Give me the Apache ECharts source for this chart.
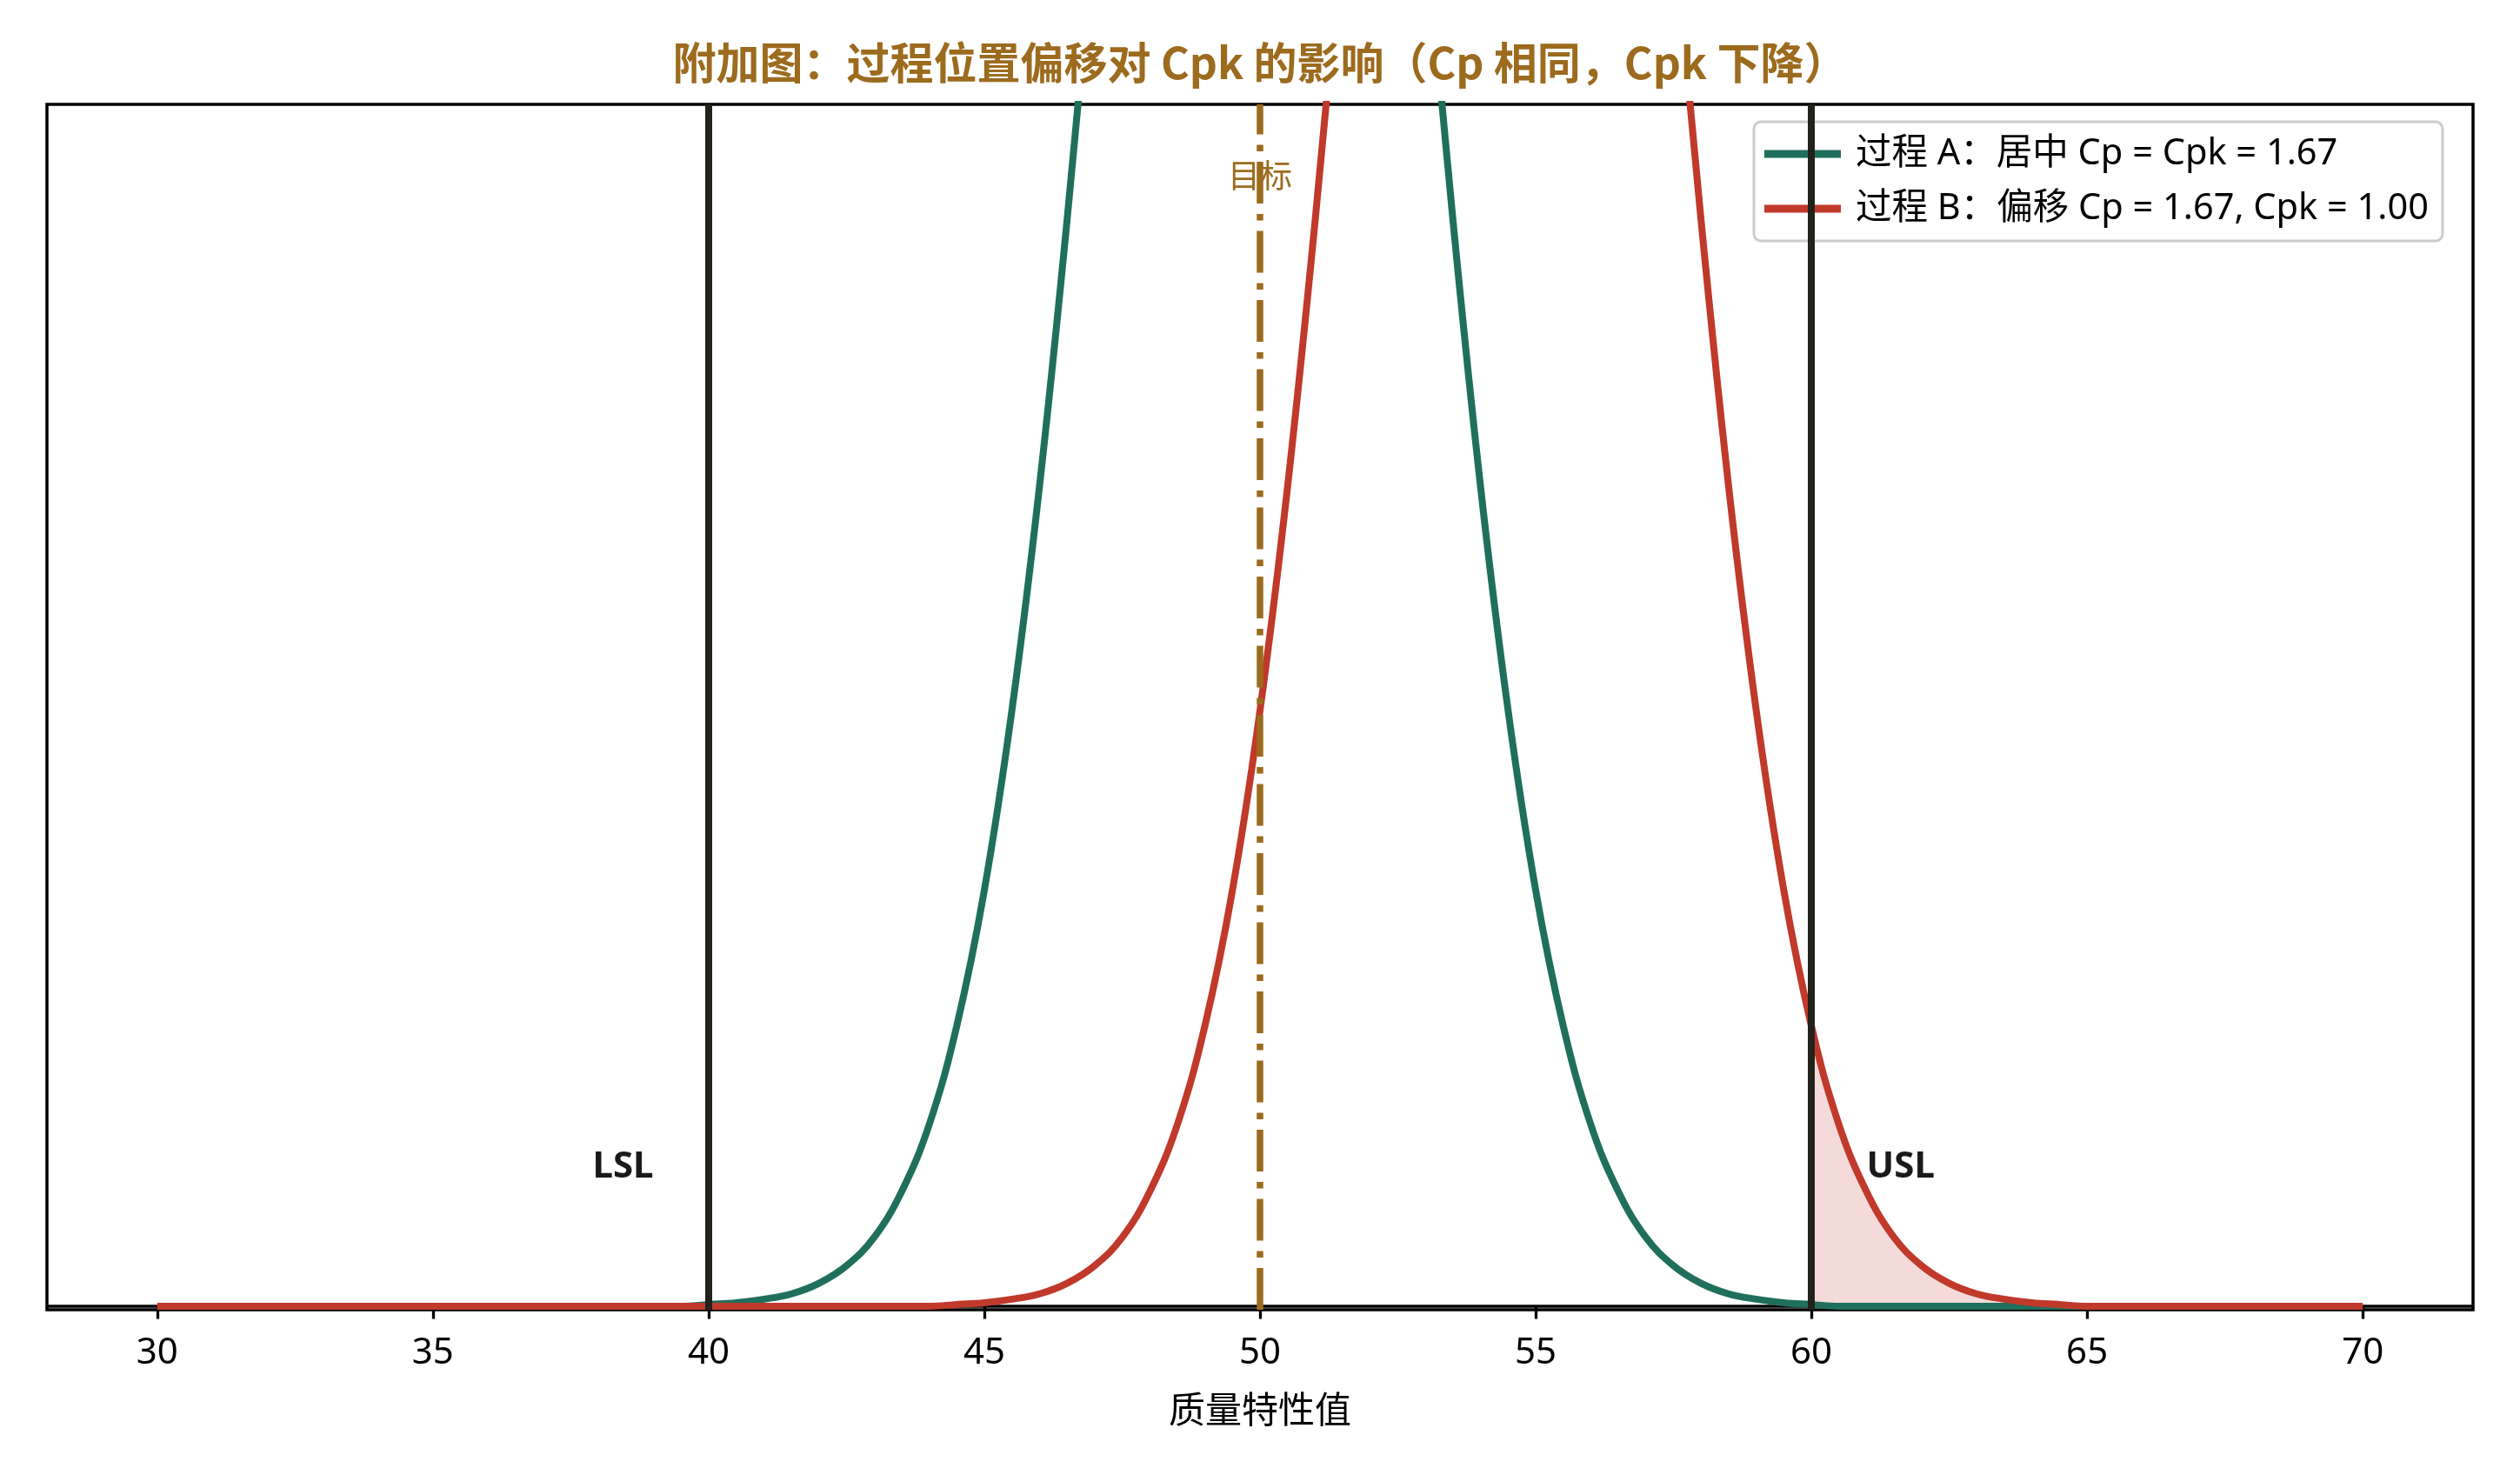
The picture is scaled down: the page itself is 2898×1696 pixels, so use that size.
<!DOCTYPE html>
<html>
<head>
<meta charset="utf-8">
<title>过程位置偏移对 Cpk 的影响</title>
<script src="https://cdn.jsdelivr.net/npm/echarts@6/dist/echarts.min.js"></script>
<style>
    html, body { margin: 0; padding: 0; background: #fff; }
    #chart { width: 2898px; height: 1696px; }
</style>
</head>
<body>
<div id="chart"></div>
<script>
// x 采样点（质量特性值）
const xs = [
    30, 30.5, 31, 31.5, 32, 32.5, 33, 33.5, 34, 34.5,
    35, 35.5, 36, 36.5, 37, 37.5, 38, 38.5, 39, 39.5,
    40, 40.5, 41, 41.5, 42, 42.5, 43, 43.5, 44, 44.5,
    45, 45.5, 46, 46.5, 47, 47.5, 48, 48.5, 49, 49.5,
    50,
    50.5, 51, 51.5, 52, 52.5, 53, 53.5, 54, 54.5, 55,
    55.5, 56, 56.5, 57, 57.5, 58, 58.5, 59, 59.5, 60,
    60.5, 61, 61.5, 62, 62.5, 63, 63.5, 64, 64.5, 65,
    65.5, 66, 66.5, 67, 67.5, 68, 68.5, 69, 69.5, 70
]
// 过程 A：居中
const densityA = [
    0, 0, 0, 0, 0, 0, 0, 0, 0, 0,
    0, 0, 0, 0, 0, 0, 0, 0, 0, 0,
    0.0001, 0.0002, 0.0004, 0.0007, 0.0013, 0.0023, 0.0039, 0.0065, 0.0103, 0.0159,
    0.0236, 0.0338, 0.0465, 0.0616, 0.0786, 0.0967, 0.1145, 0.1306, 0.1434, 0.1517,
    0.1546,
    0.1517, 0.1434, 0.1306, 0.1145, 0.0967, 0.0786, 0.0616, 0.0465, 0.0338, 0.0236,
    0.0159, 0.0103, 0.0065, 0.0039, 0.0023, 0.0013, 0.0007, 0.0004, 0.0002, 0.0001,
    0, 0, 0, 0, 0, 0, 0, 0, 0, 0,
    0, 0, 0, 0, 0, 0, 0, 0, 0, 0
]
// 过程 B：偏移
const densityB = [
    0, 0, 0, 0, 0, 0, 0, 0, 0, 0,
    0, 0, 0, 0, 0, 0, 0, 0, 0, 0,
    0, 0, 0, 0, 0, 0, 0, 0, 0, 0.0001,
    0.0002, 0.0004, 0.0007, 0.0013, 0.0023, 0.0039, 0.0065, 0.0103, 0.0159, 0.0236,
    0.0338,
    0.0465, 0.0616, 0.0786, 0.0967, 0.1145, 0.1306, 0.1434, 0.1517, 0.1546, 0.1517,
    0.1434, 0.1306, 0.1145, 0.0967, 0.0786, 0.0616, 0.0465, 0.0338, 0.0236, 0.0159,
    0.0103, 0.0065, 0.0039, 0.0023, 0.0013, 0.0007, 0.0004, 0.0002, 0.0001, 0,
    0, 0, 0, 0, 0, 0, 0, 0, 0, 0
]
const tickValues = [ 30, 35, 40, 45, 50, 55, 60, 65, 70 ]
const LSL = 40, USL = 60, TARGET = 50

const nameA = '过程 A：居中 Cp = Cpk = 1.67'
const nameB = '过程 B：偏移 Cp = 1.67, Cpk = 1.00'

const green = '#1f6f5c'
const red = '#c0392b'
const gold = '#9c6b1e'
const dark = '#23211c'
const font = '"Noto Sans", "Noto Sans CJK SC", sans-serif'

const seriesA = xs.map( ( x, i ) => [ x, densityA[ i ] ] )
const seriesB = xs.map( ( x, i ) => [ x, densityB[ i ] ] )
const outOfSpec = seriesB.filter( p => p[ 0 ] >= USL )

const chart = echarts.init( document.getElementById( 'chart' ) )

chart.setOption( {
    animation: false,
    textStyle: { fontFamily: font },
    title: {
        text: '附加图：过程位置偏移对 Cpk 的影响（Cp 相同，Cpk 下降）',
        left: 'center',
        top: 47,
        padding: 0,
        textStyle: { fontFamily: '"Noto Sans CJK SC", sans-serif', fontSize: 50, fontWeight: 'bold', color: gold }
    },
    grid: {
        left: 54,
        right: 54,
        top: 120,
        bottom: 190,
        show: true,
        borderColor: '#000',
        borderWidth: 3.5,
        backgroundColor: '#fff'
    },
    legend: {
        data: [
            { name: nameA, icon: 'rect', itemStyle: { color: green } },
            { name: nameB, icon: 'rect', itemStyle: { color: red } }
        ],
        orient: 'vertical',
        left: 2017,
        top: 140,
        padding: [ 12, 16, 12, 12 ],
        itemGap: 13,
        itemWidth: 88,
        itemHeight: 9,
        backgroundColor: 'rgba(255,255,255,0.8)',
        borderColor: '#cccccc',
        borderWidth: 3,
        borderRadius: 8,
        textStyle: { fontFamily: font, fontSize: 41.5, color: '#000', lineHeight: 50, padding: [ 0, 0, 0, 12 ] }
    },
    xAxis: {
        type: 'value',
        min: 28,
        max: 72,
        name: '质量特性值',
        nameLocation: 'middle',
        nameGap: 97,
        nameTextStyle: { fontFamily: font, fontSize: 42, color: '#000' },
        splitLine: { show: false },
        axisLine: { show: true, lineStyle: { color: '#000', width: 3.5 } },
        axisTick: { show: true, length: 14.6, lineStyle: { color: '#000', width: 3.3 }, customValues: tickValues },
        axisLabel: { fontFamily: font, fontSize: 42, color: '#000', margin: 29, customValues: tickValues }
    },
    yAxis: {
        type: 'value',
        min: -0.0002,
        max: 0.0682,
        show: false,
        splitLine: { show: false }
    },
    series: [
        {
            name: 'USL 外',
            type: 'line',
            data: outOfSpec,
            smooth: 0.4,
            symbol: 'none',
            silent: true,
            z: 1,
            lineStyle: { width: 0, opacity: 0 },
            areaStyle: { color: red, opacity: 0.18 }
        },
        {
            name: nameA,
            type: 'line',
            data: seriesA,
            smooth: 0.4,
            symbol: 'none',
            z: 2,
            color: green,
            lineStyle: { color: green, width: 8 },
            markLine: {
                silent: true,
                symbol: [ 'none', 'none' ],
                label: { show: false },
                emphasis: { disabled: true },
                data: [
                    { xAxis: LSL, lineStyle: { color: dark, width: 8, type: 'solid' } },
                    { xAxis: USL, lineStyle: { color: dark, width: 8, type: 'solid' } },
                    { xAxis: TARGET, lineStyle: { color: gold, width: 7.5, type: [ 48, 12, 7.5, 12 ] } }
                ]
            }
        },
        {
            name: nameB,
            type: 'line',
            data: seriesB,
            smooth: 0.4,
            symbol: 'none',
            z: 3,
            color: red,
            lineStyle: { color: red, width: 8 }
        },
        {
            name: '标注',
            type: 'scatter',
            symbolSize: 0,
            silent: true,
            z: 6,
            itemStyle: { opacity: 1 },
            data: [
                {
                    name: 'LSL', value: [ 39, 0.0079 ],
                    label: { position: 'left', fontWeight: 'bold', fontSize: 42, color: '#1a1a1a' }
                },
                {
                    name: 'USL', value: [ 61, 0.0079 ],
                    label: { position: 'right', fontWeight: 'bold', fontSize: 42, color: '#1a1a1a' }
                },
                {
                    name: '目标', value: [ TARGET, 0.0640 ],
                    label: { position: 'inside', fontSize: 37, color: gold }
                }
            ],
            label: {
                show: true,
                distance: 0,
                opacity: 1,
                fontFamily: font,
                formatter: p => p.name
            }
        }
    ]
} )
</script>
</body>
</html>
